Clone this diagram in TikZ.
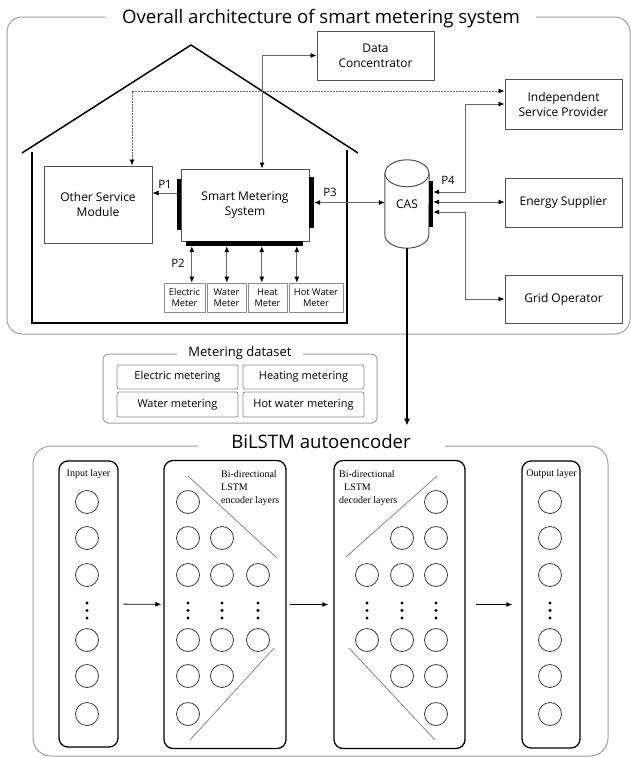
\documentclass[tikz,border=0pt]{standalone}
\usepackage{fontspec}
\setmainfont{Open Sans}
\newfontfamily\layerfont{Liberation Serif}
\usetikzlibrary{shapes,arrows,arrows.meta,positioning,calc}
\definecolor{boxgrey}{RGB}{80,80,80}
\definecolor{linegrey}{RGB}{105,105,105}
\definecolor{framegrey}{RGB}{160,160,160}
\definecolor{metergrey}{RGB}{140,140,140}
\definecolor{neurongrey}{RGB}{60,60,60}

\begin{document}
\begin{tikzpicture}[x=1pt, y=-1pt,
    box/.style={draw=boxgrey, line width=1pt, align=center, inner sep=0pt,
                font=\fontsize{12}{15}\selectfont},
    meter/.style={draw=metergrey, line width=0.8pt, align=center, inner sep=0pt,
                  minimum height=29pt, font=\fontsize{9.3}{11.5}\selectfont},
    bar/.style={fill=black, inner sep=0pt},
    plabel/.style={font=\fontsize{11.5}{13}\selectfont, inner sep=0pt},
    arrow/.style={draw=linegrey, line width=0.8pt, -{Latex[length=6pt,width=5pt,color=black]}},
    dblarrow/.style={draw=linegrey, line width=0.8pt,
                     {Latex[length=6pt,width=5pt,color=black]}-{Latex[length=6pt,width=5pt,color=black]}},
    dotarrow/.style={dblarrow, dash pattern=on 1.5pt off 1.5pt},
    frame/.style={draw=framegrey, line width=1pt},
    frametitle/.style={fill=white, font=\fontsize{18.6}{20}\selectfont, anchor=base},
    dsbox/.style={draw=metergrey, line width=0.8pt, rounded corners=2pt, inner sep=0pt,
                  minimum width=121pt, font=\fontsize{11}{13}\selectfont},
    layer/.style={draw=black, line width=1.3pt, rounded corners=9pt, inner sep=0pt},
    layerlabel/.style={font=\layerfont\fontsize{10}{13}\selectfont, inner sep=0pt},
    neuron/.style={circle, draw=neurongrey, line width=0.8pt, minimum size=23pt, inner sep=0pt},
    diag/.style={draw=linegrey!80, line width=0.8pt},
    flow/.style={draw=black, line width=0.8pt, -{Latex[length=6pt,width=5pt]}}
]
\useasboundingbox (0,0) rectangle (631,758);

% Overall architecture frame
\draw[frame, rounded corners=15pt] (7,17) rectangle (630,334);
\node[frametitle, inner xsep=16pt, inner ysep=3pt] (top-title) at (321,23)
    {Overall architecture of smart metering system};

% House outline
\draw[line width=1.5pt] (22,153) -- (191,45) -- (358,153);
\draw[line width=1.5pt] (32,152) -- (32,323) -- (347,323) -- (347,150);

% Boxes inside and outside the house
\node[box, minimum width=108pt, minimum height=77pt] (osm) at (98,204.5) {Other Service\\Module};
\node[box, minimum width=128pt, minimum height=72pt] (sms) at (245,205) {Smart Metering\\System};
\node[box, minimum width=117pt, minimum height=49pt] (dc) at (375.5,55.5) {Data\\Concentrator};
\node[box, minimum width=117pt, minimum height=50pt] (isp) at (563.5,104) {Independent\\Service Provider};
\node[box, minimum width=117pt, minimum height=49pt] (energy) at (563.5,202.5) {Energy Supplier};
\node[box, minimum width=117pt, minimum height=48pt] (grid) at (563.5,299) {Grid Operator};

% Meters
\node[meter, minimum width=41pt] (elec) at (184.5,297.5) {Electric\\Meter};
\node[meter, minimum width=39pt] (water) at (226.5,297.5) {Water\\Meter};
\node[meter, minimum width=39pt] (heat) at (267.5,297.5) {Heat\\Meter};
\node[meter, minimum width=54pt] (hot) at (316,297.5) {Hot Water\\Meter};

% CAS cylinder
\node[inner sep=0pt, minimum width=44pt, minimum height=88pt, font=\fontsize{12}{14}\selectfont] (cas) at (407,204) {CAS};
\draw[boxgrey, line width=1pt] ($(cas.north west)+(0,13.5)$) -- ($(cas.south west)+(0,-13.5)$)
    arc[start angle=180, end angle=0, x radius=22, y radius=13.5]
    -- ($(cas.north east)+(0,13.5)$);
\draw[boxgrey, line width=1pt] ($(cas.north)+(0,13.5)$) ellipse[x radius=22, y radius=13.5];

% Interface bars and port labels
\node[bar, minimum width=4pt, minimum height=51pt] (p1bar) at (179,204.5) {};
\node[bar, minimum width=5pt, minimum height=51pt] (p3bar) at (311.5,202.5) {};
\node[bar, minimum width=117pt, minimum height=5pt] (p2bar) at (244.5,243.5) {};
\node[bar, minimum width=4pt, minimum height=46pt] (casbar) at (431,204) {};
\node[plabel] (p1) at (165,184) {P1};
\node[plabel] (p2) at (178,263) {P2};
\node[plabel] (p3) at (330,192) {P3};
\node[plabel] (p4) at (448,180) {P4};

% Connections
\coordinate (p1-out) at ($(p1bar.west)+(0,-11.5)$);
\draw[arrow] (p1-out) -- (osm.east |- p1-out);
\draw[dblarrow] (p3bar.east) -- (cas.west |- p3bar.east);
\coordinate (sms-top) at ($(sms.north)+(17,0)$);
\draw[dblarrow] (sms-top) |- (dc.west);
\coordinate (osm-top) at ($(osm.north)+(34,0)$);
\coordinate (isp-in) at ($(isp.west)+(0,-13)$);
\draw[dotarrow] (osm-top) |- (isp-in);
\foreach \dx/\m in {6/elec,41/water,76/heat,111/hot}
    \draw[dblarrow] ($(p2bar.south west)+(\dx,0)$) coordinate (m-top) -- (m-top |- \m.north);
\coordinate (cas-p1) at ($(casbar.east)+(0,-12)$);
\coordinate (cas-p2) at ($(casbar.east)+(0,-2)$);
\coordinate (cas-p3) at ($(casbar.east)+(0,8)$);
\draw[dblarrow] (cas-p1) -- ++(32,0) |- (isp.west);
\draw[dblarrow] (cas-p2) -- (energy.west |- cas-p2);
\draw[dblarrow] (cas-p3) -- ++(32,0) |- (grid.west);

% Metering dataset
\draw[frame, rounded corners=5pt] (103,354) rectangle (377,423);
\node[frametitle, font=\fontsize{13}{15}\selectfont, inner xsep=11pt, inner ysep=2pt] (ds-title) at (240,356) {Metering dataset};
\node[dsbox, minimum height=24pt] (elec-m) at (177.5,377) {Electric metering};
\node[dsbox, minimum height=24pt] (heat-m) at (303.5,377) {Heating metering};
\node[dsbox, minimum height=25pt] (water-m) at (177.5,404.5) {Water metering};
\node[dsbox, minimum height=25pt] (hot-m) at (303.5,404.5) {Hot water metering};

% BiLSTM autoencoder frame
\draw[frame, rounded corners=18pt] (33,446) rectangle (608,756);
\node[frametitle, inner xsep=10pt, inner ysep=8pt, minimum width=247pt] (bi-title) at (321,448) {BiLSTM autoencoder};
\draw[black, line width=1.5pt, -{Latex[length=7pt,width=6pt]}] (cas.south) -- (cas.south |- bi-title.north);

% Layers
\node[layer, minimum width=59pt, minimum height=286pt] (input) at (88.5,604) {};
\node[layer, minimum width=122pt, minimum height=288pt] (enc) at (225,604.5) {};
\node[layer, minimum width=131pt, minimum height=288pt] (dec) at (399.5,604.5) {};
\node[layer, minimum width=58pt, minimum height=287pt] (output) at (551,604.5) {};

\node[layerlabel, anchor=base] (input-label) at (88.5,476.5) {Input layer};
\node[layerlabel, anchor=base] (output-label) at (551.5,476.5) {Output layer};
\node[layerlabel, anchor=north west, align=left] (enc-label) at (221,470) {Bi-directional\\LSTM\\encoder layers};
\node[layerlabel, anchor=north west, align=left] (dec-label) at (339,470) {Bi-directional\\\hspace*{5pt}LSTM\\decoder layers};

% Neurons
\foreach \y in {502,538,575,640,676,714} {
    \node[neuron] (in-\y) at (87,\y) {};
    \node[neuron] (out-\y) at (550,\y) {};
    \node[neuron] (enc1-\y) at (188,\y) {};
    \node[neuron] (dec3-\y) at (436,\y) {};
}
\foreach \y in {538,575,640,676} {
    \node[neuron] (enc2-\y) at (222,\y) {};
    \node[neuron] (dec2-\y) at (402,\y) {};
}
\foreach \y in {575,640} {
    \node[neuron] (enc3-\y) at (258,\y) {};
    \node[neuron] (dec1-\y) at (367,\y) {};
}
\foreach \x in {87,188,222,258,367,402,436,550}
    \foreach \y in {603,610.5,618}
        \fill (\x,\y) circle (1.6pt);

% Diagonal separators
\draw[diag] (188,476) -- (277,558);
\draw[diag] (274,648) -- (190,740);
\draw[diag] (346,557) -- (437,476);
\draw[diag] (349,648) -- (435,740);

% Flow between layers
\draw[flow, shorten <=5pt, shorten >=2pt] (input) -- (enc);
\draw[flow, shorten <=3pt, shorten >=5pt] (enc) -- (dec);
\draw[flow, shorten <=10pt, shorten >=9pt] (dec) -- (output);

\end{tikzpicture}
\end{document}
